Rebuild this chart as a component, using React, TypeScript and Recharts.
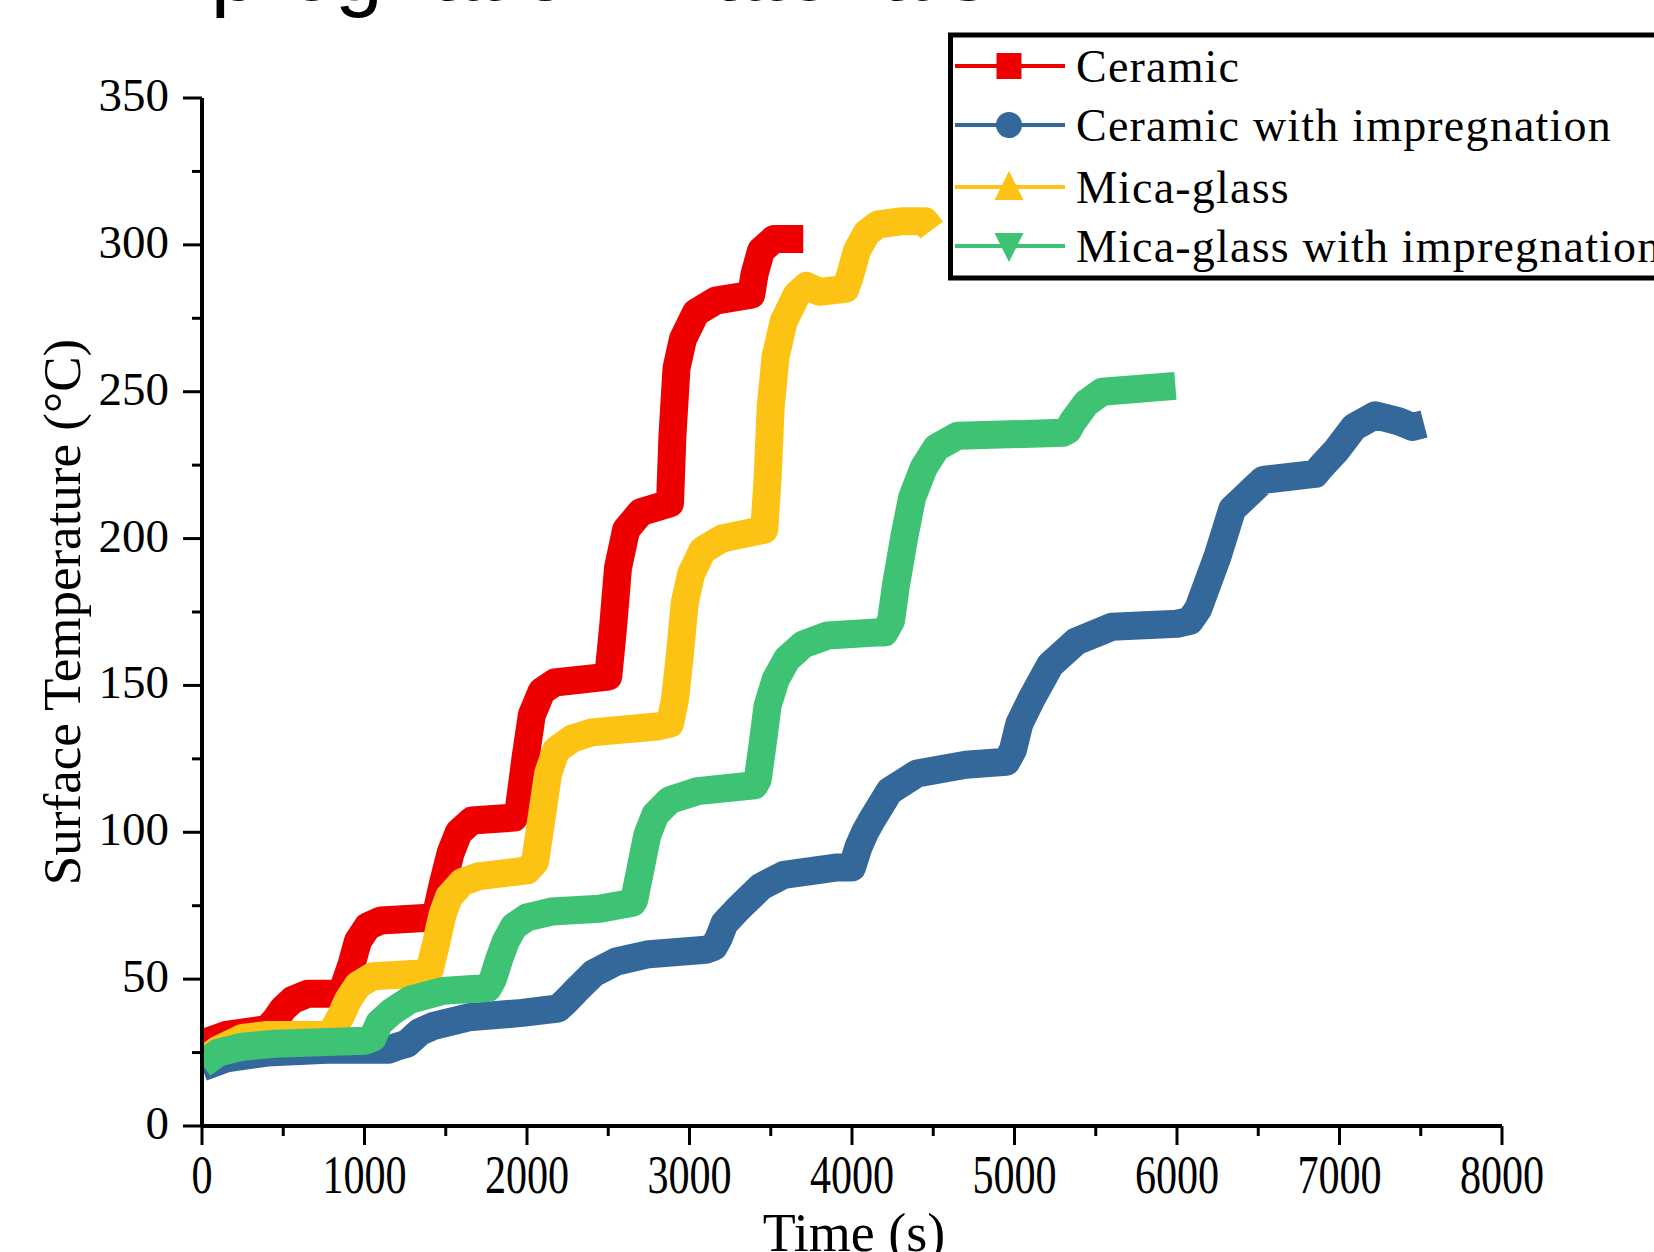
import { Line, LineChart, XAxis, YAxis } from "recharts";

// [time (s), surface temperature (°C)]
const ceramic = [
  [0, 28], [150, 31], [400, 33], [450, 36], [500, 40], [560, 43], [650, 45], [840, 45],
  [870, 47], [920, 55], [960, 63], [1020, 68], [1100, 70], [1420, 71],
  [1440, 72], [1480, 82], [1530, 93], [1580, 100], [1660, 104], [1920, 105],
  [1950, 108], [1990, 125], [2030, 140], [2090, 148], [2170, 151], [2500, 153],
  [2530, 170], [2560, 190], [2610, 203], [2700, 209], [2880, 212],
  [2895, 235], [2920, 258], [2960, 268], [3040, 277], [3160, 281], [3380, 283],
  [3400, 290], [3440, 298], [3520, 302], [3700, 302],
];

const ceramicImpreg = [
  [0, 20], [150, 23], [400, 25], [800, 26], [1150, 26],
  [1200, 27], [1260, 28], [1340, 32], [1420, 34], [1640, 37], [1970, 38.5], [2190, 40],
  [2230, 42], [2300, 46], [2410, 52], [2550, 56], [2750, 58.5], [3100, 60], [3150, 61],
  [3180, 64], [3215, 69], [3300, 74], [3440, 81.5], [3580, 85.5], [3900, 88], [4000, 88],
  [4040, 95], [4080, 100], [4120, 104], [4230, 114], [4400, 120], [4700, 123], [4950, 124],
  [4990, 128], [5030, 137], [5110, 146], [5220, 157], [5380, 165], [5600, 170], [6000, 171],
  [6080, 172], [6130, 176], [6170, 182], [6250, 194], [6340, 210], [6530, 220], [6850, 222],
  [6880, 224], [6930, 227], [6980, 230], [7090, 238], [7220, 242], [7360, 240], [7450, 238],
  [7520, 239],
];

const micaGlass = [
  [0, 22], [100, 26], [250, 30], [400, 31], [780, 31],
  [800, 32], [850, 37], [900, 43], [960, 48], [1050, 51], [1380, 52],
  [1400, 53], [1440, 62], [1480, 72], [1520, 78], [1600, 83], [1700, 85], [2000, 87],
  [2050, 90], [2090, 105], [2130, 120], [2180, 128], [2280, 132], [2400, 134], [2800, 136],
  [2880, 137], [2910, 145], [2940, 160], [2970, 178], [3010, 188], [3080, 196], [3200, 200],
  [3460, 203], [3480, 220], [3500, 245], [3530, 262], [3580, 274], [3660, 283], [3720, 286],
  [3800, 284], [3960, 285], [3990, 290], [4030, 298], [4090, 304], [4160, 307], [4300, 308],
  [4450, 308], [4490, 305],
];

const micaGlassImpreg = [
  [0, 21], [100, 25], [250, 27], [450, 28], [1000, 29],
  [1050, 30], [1090, 35], [1170, 39], [1280, 43], [1480, 46], [1760, 47],
  [1790, 50], [1830, 57], [1870, 63], [1920, 68], [2000, 71], [2150, 73], [2450, 74], [2650, 76],
  [2660, 77], [2700, 88], [2740, 99], [2790, 106], [2880, 111], [3050, 114], [3400, 116],
  [3420, 118], [3450, 130], [3480, 143], [3530, 152], [3600, 159], [3700, 164], [3850, 167],
  [4150, 168], [4200, 168], [4240, 172], [4270, 184], [4320, 200], [4370, 214], [4440, 224],
  [4520, 231], [4650, 235], [5300, 236], [5330, 237], [5360, 240], [5440, 246], [5540, 250],
  [5990, 252],
];

const seriesNames = [
  "Ceramic",
  "Ceramic with impregnation",
  "Mica-glass",
  "Mica-glass with impregnation",
];
const seriesColors = ["#EE0000", "#34679A", "#FDC314", "#3DC373"];
const seriesPoints = [ceramic, ceramicImpreg, micaGlass, micaGlassImpreg];

const xTicks = [0, 500, 1000, 1500, 2000, 2500, 3000, 3500, 4000, 4500, 5000, 5500, 6000, 6500, 7000, 7500, 8000];
const yTicks = [0, 25, 50, 75, 100, 125, 150, 175, 200, 225, 250, 275, 300, 325, 350];

const serif = '"Liberation Serif", "Times New Roman", serif';

function YTick(props: any) {
  const { x, y, payload } = props;
  const major = payload.value % 50 === 0;
  return (
    <g>
      <line x1={x - (major ? 19 : 10)} x2={x} y1={y} y2={y} stroke="#000" strokeWidth={3} />
      {major && (
        <text x={x - 33} y={y + 13} textAnchor="end" fontSize={47} fontFamily={serif} fill="#000">
          {payload.value}
        </text>
      )}
    </g>
  );
}

function XTick(props: any) {
  const { x, y, payload } = props;
  const major = payload.value % 1000 === 0;
  return (
    <g>
      <line x1={x} x2={x} y1={y} y2={y + (major ? 19 : 10)} stroke="#000" strokeWidth={3} />
      {major && (
        <text
          transform={`translate(${x},${y + 67}) scale(0.78,1)`}
          textAnchor="middle"
          fontSize={54}
          fontFamily={serif}
          fill="#000"
        >
          {payload.value}
        </text>
      )}
    </g>
  );
}

function Marker({ kind, cx, cy, color }: { kind: number; cx: number; cy: number; color: string }) {
  if (kind === 0) return <rect x={cx - 12.5} y={cy - 13} width={25} height={26} fill={color} />;
  if (kind === 1) return <circle cx={cx} cy={cy} r={13} fill={color} />;
  if (kind === 2)
    return <polygon points={`${cx},${cy - 16} ${cx + 14.5},${cy + 13} ${cx - 14.5},${cy + 13}`} fill={color} />;
  return <polygon points={`${cx},${cy + 16} ${cx + 14.5},${cy - 13} ${cx - 14.5},${cy - 13}`} fill={color} />;
}

const legendRows = [66, 125, 187, 246];

export default function App() {
  return (
    <div
      style={{
        position: "absolute",
        left: 0,
        top: 0,
        width: 1654,
        height: 1252,
        overflow: "hidden",
        background: "#fff",
      }}
    >
      <LineChart
        width={1654}
        height={1252}
        margin={{ top: 98, right: 152, left: 0, bottom: 0 }}
      >
        <XAxis
          type="number"
          dataKey="t"
          domain={[0, 8000]}
          ticks={xTicks}
          interval={0}
          height={126}
          tickSize={0}
          tickMargin={0}
          tickLine={false}
          axisLine={{ stroke: "#000", strokeWidth: 4 }}
          tick={<XTick />}
          allowDataOverflow
        />
        <YAxis
          type="number"
          domain={[0, 350]}
          ticks={yTicks}
          interval={0}
          width={202}
          tickSize={0}
          tickMargin={0}
          tickLine={false}
          axisLine={{ stroke: "#000", strokeWidth: 4 }}
          tick={<YTick />}
          allowDataOverflow
        />
        {seriesPoints.map((pts, i) => (
          <Line
            key={seriesNames[i]}
            data={pts.map(([t, v]) => ({ t, v }))}
            dataKey="v"
            name={seriesNames[i]}
            type="linear"
            stroke={seriesColors[i]}
            strokeWidth={28}
            strokeLinejoin="round"
            dot={false}
            activeDot={false}
            isAnimationActive={false}
          />
        ))}
      </LineChart>

      <svg
        width={1654}
        height={1252}
        style={{ position: "absolute", left: 0, top: 0, pointerEvents: "none" }}
      >
        <text x={120} y={0} fontSize={86} fontFamily='"Liberation Sans", Arial, sans-serif' fill="#000">
          impregnation materials
        </text>

        <text
          transform="translate(80,612) rotate(-90)"
          textAnchor="middle"
          fontSize={53}
          fontFamily={serif}
          fill="#000"
        >
          Surface Temperature (°C)
        </text>
        <text x={854} y={1251} textAnchor="middle" fontSize={54} fontFamily={serif} fill="#000">
          Time (s)
        </text>

        <rect x={950.5} y={35} width={760} height={243} fill="#fff" stroke="#000" strokeWidth={5} />
        {seriesNames.map((name, i) => (
          <g key={name}>
            <line x1={955} x2={1065} y1={legendRows[i]} y2={legendRows[i]} stroke={seriesColors[i]} strokeWidth={4} />
            <Marker kind={i} cx={1009} cy={legendRows[i]} color={seriesColors[i]} />
            <text
              x={1076}
              y={legendRows[i] + 16}
              fontSize={46}
              letterSpacing={1.2}
              fontFamily={serif}
              fill="#000"
            >
              {name}
            </text>
          </g>
        ))}
      </svg>
    </div>
  );
}
